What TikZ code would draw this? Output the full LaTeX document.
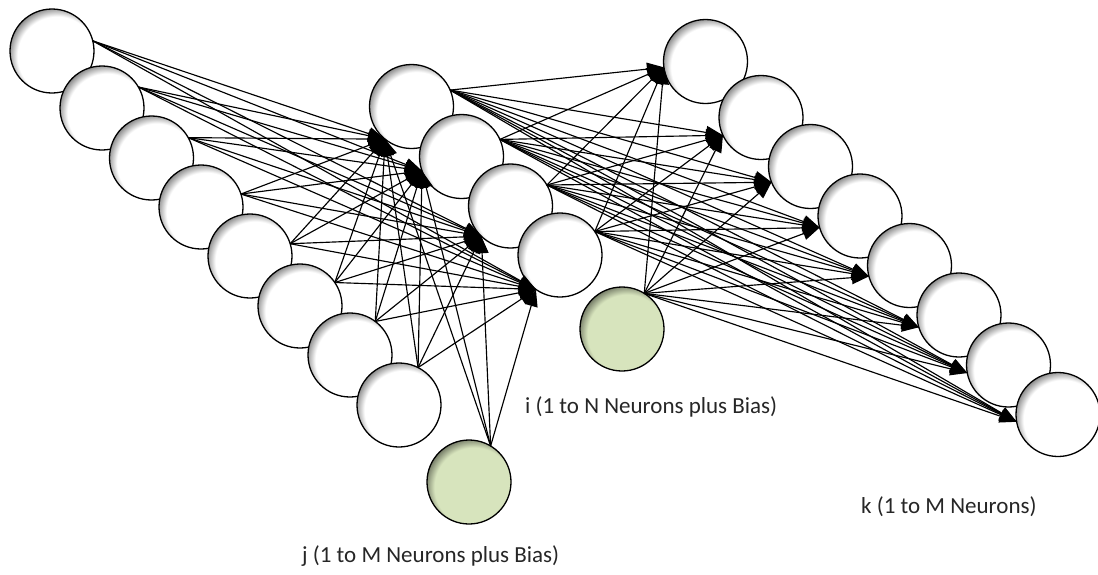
\documentclass[tikz,border=0pt]{standalone}
\usepackage{fontspec}
\setmainfont{Carlito}
\usetikzlibrary{arrows.meta}

\definecolor{biasgreen}{HTML}{D7E4BD}
\definecolor{labeltext}{HTML}{262626}

% soft inner shadow along the upper-left rim of every neuron
% (the shaded circle's rim lies at 25bp in shading space)
\pgfdeclareradialshading{neuronshade}{\pgfpointorigin}{%
  color(0bp)=(white); color(19bp)=(white); color(23.5bp)=(black!45);
  color(25bp)=(black!45); color(50bp)=(black!45)}
\pgfdeclareradialshading{biasshade}{\pgfpointorigin}{%
  color(0bp)=(biasgreen); color(19bp)=(biasgreen); color(23.5bp)=(biasgreen!55!black);
  color(25bp)=(biasgreen!55!black); color(50bp)=(biasgreen!55!black)}

\begin{document}
\begin{tikzpicture}[x=1pt,y=-1pt,
  neuron/.style={circle, minimum size=84pt, inner sep=0pt, outer sep=0pt,
    draw=black, line width=1.3pt, fill=white,
    path picture={\shade[shading=neuronshade]
      ([shift={(5pt,-5pt)}]path picture bounding box.center) circle (52pt);}},
  biasneuron/.style={neuron, fill=biasgreen,
    path picture={\shade[shading=biasshade]
      ([shift={(5pt,-5pt)}]path picture bounding box.center) circle (52pt);}},
  conn/.style={draw=black, line width=1.15pt, -{Triangle[length=17pt,width=13pt]}},
  lbl/.style={anchor=west, inner sep=0pt, text=labeltext,
    font=\fontsize{23}{28}\selectfont}]

\fill[white] (0,0) rectangle (1098,574);
\useasboundingbox (0,0) rectangle (1098,574);

% layer j
\node[neuron] (j1) at (52,51) {};
\node[neuron] (j2) at (102,108) {};
\node[neuron] (j3) at (151.5,158) {};
\node[neuron] (j4) at (201,207) {};
\node[neuron] (j5) at (250,256) {};
\node[neuron] (j6) at (300,306) {};
\node[neuron] (j7) at (350,355) {};
\node[neuron] (j8) at (399,405) {};
\node[biasneuron] (bj) at (469,482) {};

% layer i
\node[neuron] (m1) at (411.5,106.5) {};
\node[neuron] (m2) at (461.5,156.5) {};
\node[neuron] (m3) at (510.5,206) {};
\node[neuron] (m4) at (560,255) {};
\node[biasneuron] (bi) at (622,329) {};

% layer k
\node[neuron] (k1) at (705.5,61.5) {};
\node[neuron] (k2) at (761,117.5) {};
\node[neuron] (k3) at (810.5,166.5) {};
\node[neuron] (k4) at (860,216) {};
\node[neuron] (k5) at (909.5,265.5) {};
\node[neuron] (k6) at (959,315) {};
\node[neuron] (k7) at (1008.5,365) {};
\node[neuron] (k8) at (1058,414.5) {};

% weights j -> i
\foreach \s/\a in {j1/14, j2/30, j3/29, j4/18, j5/17, j6/34, j7/53, j8/63, bj/59}
  \foreach \t/\b in {m1/231, m2/200, m3/226, m4/235}
    \draw[conn] (\s.\a) -- (\t.\b);

% weights i -> k
\foreach \s/\a in {m1/23, m2/24, m3/30, m4/34, bi/58}
  \foreach \t/\b in {k1/188, k2/205, k3/202, k4/196, k5/195, k6/197, k7/191, k8/190}
    \draw[conn] (\s.\a) -- (\t.\b);

% layer captions
\node[lbl] (ilabel) at (525,407) {i (1 to N Neurons plus Bias)};
\node[lbl] (jlabel) at (302,556) {j (1 to M Neurons plus Bias)};
\node[lbl] (klabel) at (861,507) {k (1 to M Neurons)};

\end{tikzpicture}
\end{document}
